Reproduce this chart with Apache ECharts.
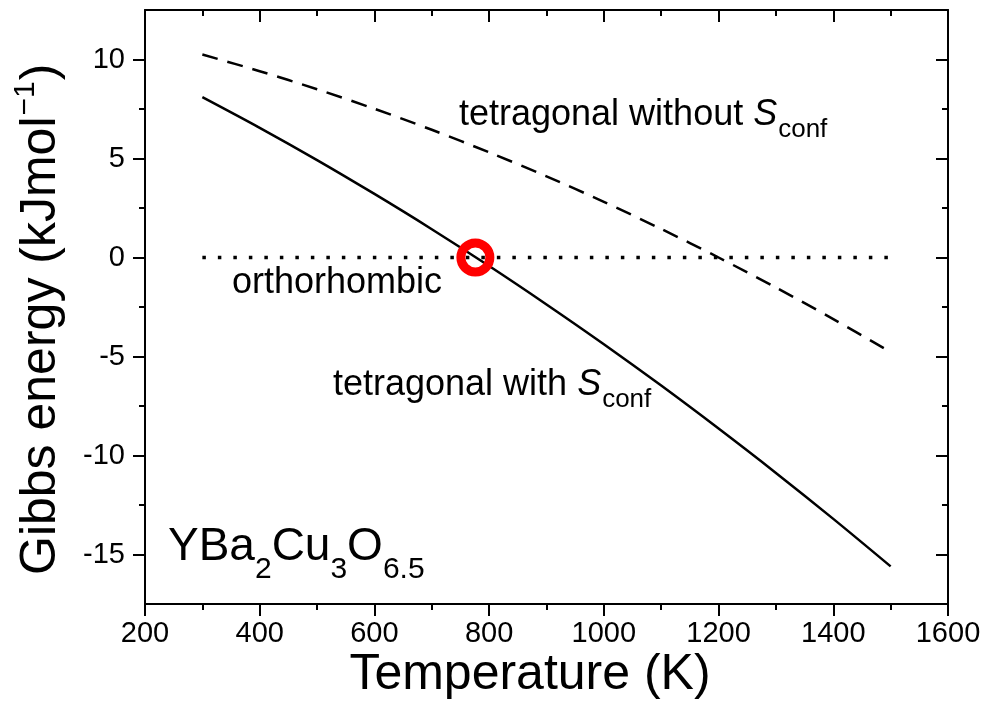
<!DOCTYPE html>
<html>
<head>
<meta charset="utf-8">
<script src="https://cdn.jsdelivr.net/npm/echarts@6/dist/echarts.min.js"></script>
<style>
  html, body { margin: 0; padding: 0; background: #fff; }
  #chart { width: 984px; height: 713px; }
</style>
</head>
<body>
<div id="chart"></div>
<script>
// Temperature grid (K) and Gibbs energies (kJ/mol) relative to the orthorhombic phase
const tempsWith = [300, 400, 500, 600, 700, 800, 900, 1000, 1100, 1200, 1300, 1400, 1500];
const gWithSconf = [8.10, 6.55, 4.92, 3.21, 1.43, -0.43, -2.37, -4.38, -6.47, -8.64, -10.88, -13.20, -15.60];

const tempsWithout = [300, 400, 500, 600, 700, 800, 900, 1000, 1100, 1200, 1300, 1400, 1490];
const gWithoutSconf = [10.25, 9.41, 8.50, 7.51, 6.45, 5.31, 4.10, 2.81, 1.44, 0.00, -1.52, -3.11, -4.61];

const tempsOrtho = [300, 1500];
const gOrtho = [0, 0];

// Transition point (orthorhombic = tetragonal with S_conf)
const transition = [776, 0];

// Axis ticks
const yMajorTicks = [-15, -10, -5, 0, 5, 10];
const yMinorTicks = [-12.5, -7.5, -2.5, 2.5, 7.5];

const FONT = "'Liberation Sans', Arial, Helvetica, sans-serif";
const BLACK = '#000';

function pairs(xs, ys) { return xs.map((x, i) => [x, ys[i]]); }

const chart = echarts.init(document.getElementById('chart'), null, { renderer: 'canvas' });

const axisLine = { show: true, onZero: false, lineStyle: { color: BLACK, width: 2 } };

function xAxisDef(position, inside, showLabel) {
  return {
    type: 'value', position, min: 200, max: 1600, interval: 200,
    axisLine,
    axisTick: { show: true, inside, length: 12, lineStyle: { color: BLACK, width: 2 } },
    minorTick: { show: true, splitNumber: 2, length: 6, lineStyle: { color: BLACK, width: 2 } },
    axisLabel: { show: showLabel, color: BLACK, fontFamily: FONT, fontSize: 29, margin: 15,
                 formatter: v => String(v) },
    splitLine: { show: false }, minorSplitLine: { show: false }
  };
}

function yAxisDef(position, inside, ticks, len, showLabel, showLine) {
  return {
    type: 'value', position, min: -17.5, max: 12.5,
    axisLine: showLine ? axisLine : { show: false },
    axisTick: { show: true, inside, length: len, customValues: ticks, lineStyle: { color: BLACK, width: 2 } },
    axisLabel: { show: showLabel, customValues: ticks, color: BLACK, fontFamily: FONT, fontSize: 29, margin: 20,
                 formatter: v => String(v) },
    splitLine: { show: false }
  };
}

// Text measurement for laying out runs with sub/superscripts
const measureCtx = document.createElement('canvas').getContext('2d');
function textWidth(text, size, italic) {
  measureCtx.font = (italic ? 'italic ' : '') + size + 'px ' + FONT;
  return measureCtx.measureText(text).width;
}

function txt(text, x, y, size, opts) {
  opts = opts || {};
  return {
    type: 'text', x, y, rotation: opts.rotation || 0, z: 100,
    style: {
      text, fill: BLACK, fontSize: size, fontFamily: FONT,
      fontStyle: opts.italic ? 'italic' : 'normal',
      align: opts.align || 'left', verticalAlign: 'middle'
    }
  };
}

// baseline -> middle of the em box
function mid(baseline, size) { return baseline - 0.33 * size; }

// Horizontal run of text pieces: each piece {t, size, drop, italic}
function run(x0, baseline, pieces) {
  const out = [];
  let x = x0;
  pieces.forEach(p => {
    out.push(txt(p.t, x, mid(baseline + (p.drop || 0), p.size), p.size, { italic: p.italic }));
    x += textWidth(p.t, p.size, p.italic) + (p.gap || 0);
  });
  return out;
}

const annotations = [].concat(
  run(459, 127, [
    { t: 'tetragonal without ', size: 36 },
    { t: 'S', size: 36, italic: true, gap: 1 },
    { t: 'conf', size: 26, drop: 11 }
  ]),
  run(232, 295, [{ t: 'orthorhombic', size: 36 }]),
  run(333, 397, [
    { t: 'tetragonal with ', size: 36 },
    { t: 'S', size: 36, italic: true, gap: 1 },
    { t: 'conf', size: 26, drop: 11 }
  ]),
  run(168, 562, [
    { t: 'YBa', size: 46 },
    { t: '2', size: 30, drop: 18 },
    { t: 'Cu', size: 46 },
    { t: '3', size: 30, drop: 18 },
    { t: 'O', size: 46 },
    { t: '6.5', size: 30, drop: 18 }
  ])
);

// Vertical axis title, reading bottom to top
const yTitleMain = 'Gibbs energy (kJmol';
const yTitleSize = 50;
const yStart = 575;
const yMainLen = textWidth(yTitleMain, yTitleSize);
const ySupLen = textWidth('\u22121', 30);
const yTitle = [
  txt(yTitleMain, 41, yStart, yTitleSize, { rotation: Math.PI / 2 }),
  txt('\u22121', 26, yStart - yMainLen - 1, 30, { rotation: Math.PI / 2 }),
  txt(')', 41, yStart - yMainLen - ySupLen - 2, yTitleSize, { rotation: Math.PI / 2 })
];

const option = {
  backgroundColor: '#fff',
  animation: false,
  grid: { left: 145, right: 36, top: 10, bottom: 109, containLabel: false },
  xAxis: [
    xAxisDef('bottom', false, true),
    xAxisDef('top', true, false)
  ],
  yAxis: [
    yAxisDef('left', false, yMajorTicks, 12, true, true),
    yAxisDef('left', false, yMinorTicks, 6, false, false),
    yAxisDef('right', true, yMajorTicks, 12, false, true),
    yAxisDef('right', true, yMinorTicks, 6, false, false)
  ],
  series: [
    {
      name: 'tetragonal with Sconf', type: 'line', xAxisIndex: 0, yAxisIndex: 0,
      data: pairs(tempsWith, gWithSconf), smooth: 0.3, showSymbol: false,
      lineStyle: { color: BLACK, width: 2.5 }
    },
    {
      name: 'tetragonal without Sconf', type: 'line', xAxisIndex: 0, yAxisIndex: 0,
      data: pairs(tempsWithout, gWithoutSconf), smooth: 0.3, showSymbol: false,
      lineStyle: { color: BLACK, width: 2.5, type: [16, 10] }
    },
    {
      name: 'orthorhombic', type: 'line', xAxisIndex: 0, yAxisIndex: 0,
      data: pairs(tempsOrtho, gOrtho), showSymbol: false,
      lineStyle: { color: BLACK, width: 3.5, type: [3.5, 12] }
    },
    {
      name: 'transition', type: 'scatter', xAxisIndex: 0, yAxisIndex: 0, z: 10,
      data: [transition], symbol: 'circle', symbolSize: 29,
      itemStyle: { color: 'rgba(0,0,0,0)', borderColor: '#ff0000', borderWidth: 9, opacity: 1 }
    }
  ],
  graphic: annotations.concat(yTitle, [
    txt('Temperature (K)', 530, mid(692, 50), 50, { align: 'center' })
  ])
};

chart.setOption(option);
</script>
</body>
</html>
